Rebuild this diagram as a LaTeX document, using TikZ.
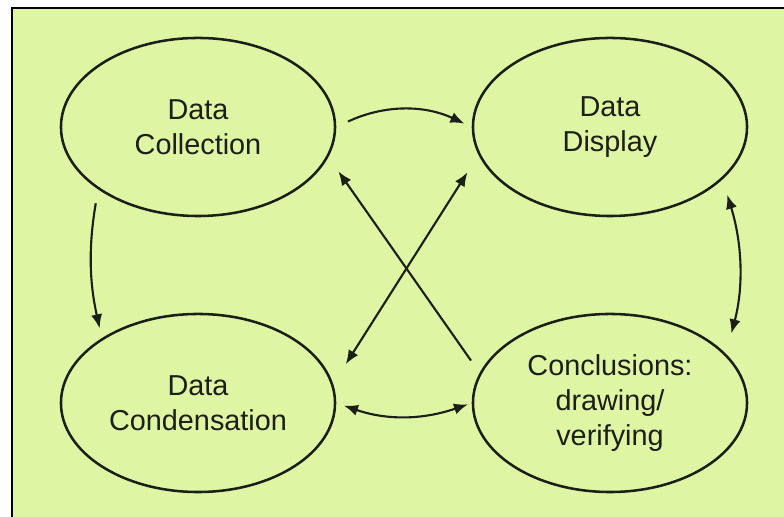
\documentclass[tikz,border=0pt]{standalone}
\usepackage{fontspec}
\setmainfont{Liberation Sans}
\usetikzlibrary{%
  arrows.meta,%
  shapes.geometric%
}
\definecolor{bggreen}{RGB}{222,246,164}
\definecolor{inkgray}{RGB}{28,30,24}
\tikzset{>={Latex[length=10pt,width=8pt]}}
\tikzset{stage/.style = {draw=inkgray, ellipse, line width=1.8pt,
        minimum width=6.85cm, minimum height=4.45cm, inner sep=0pt,
        align=center, text=inkgray, font=\fontsize{20.5}{25}\selectfont},%
        link/.style={draw=inkgray, line width=1.5pt}}

\begin{document}
\begin{tikzpicture}[x=0.025cm,y=0.025cm]
    \useasboundingbox (0,0) rectangle (784,517);
    \fill[bggreen] (12,0) rectangle (784,509);
    \draw[line width=1.4pt] (12,0) -- (12,509) -- (784,509);
    \node[stage] (coll) at (198,390) {Data\\Collection};
    \node[stage] (disp) at (610,390) {Data\\Display};
    \node[stage] (cond) at (198,114) {Data\\Condensation};
    \node[stage] (concl) at (610,114) {Conclusions:\\drawing/\\verifying};
    \draw[link,->,shorten <=9.2pt,shorten >=5.7pt] (coll.east) to[bend left=25] (disp.west);
    \draw[link,->,shorten <=10pt,shorten >=7.1pt] (coll.212.7) to[bend right=11] (cond.146.5);
    \draw[link,<->,shorten <=5.7pt,shorten >=2.8pt] (cond.east) to[bend right=19] (concl.west);
    \draw[link,<->,shorten <=11.4pt,shorten >=15pt] (disp.335) to[bend left=16] (concl.23.4);
    \draw[link,->,shorten <=10.7pt,shorten >=12.4pt] (concl.167.5) -- (coll.347.6);
    \draw[link,<->,shorten <=14.6pt,shorten >=16.7pt] (disp.192.1) -- (cond.8.4);
  \end{tikzpicture}
\end{document}
